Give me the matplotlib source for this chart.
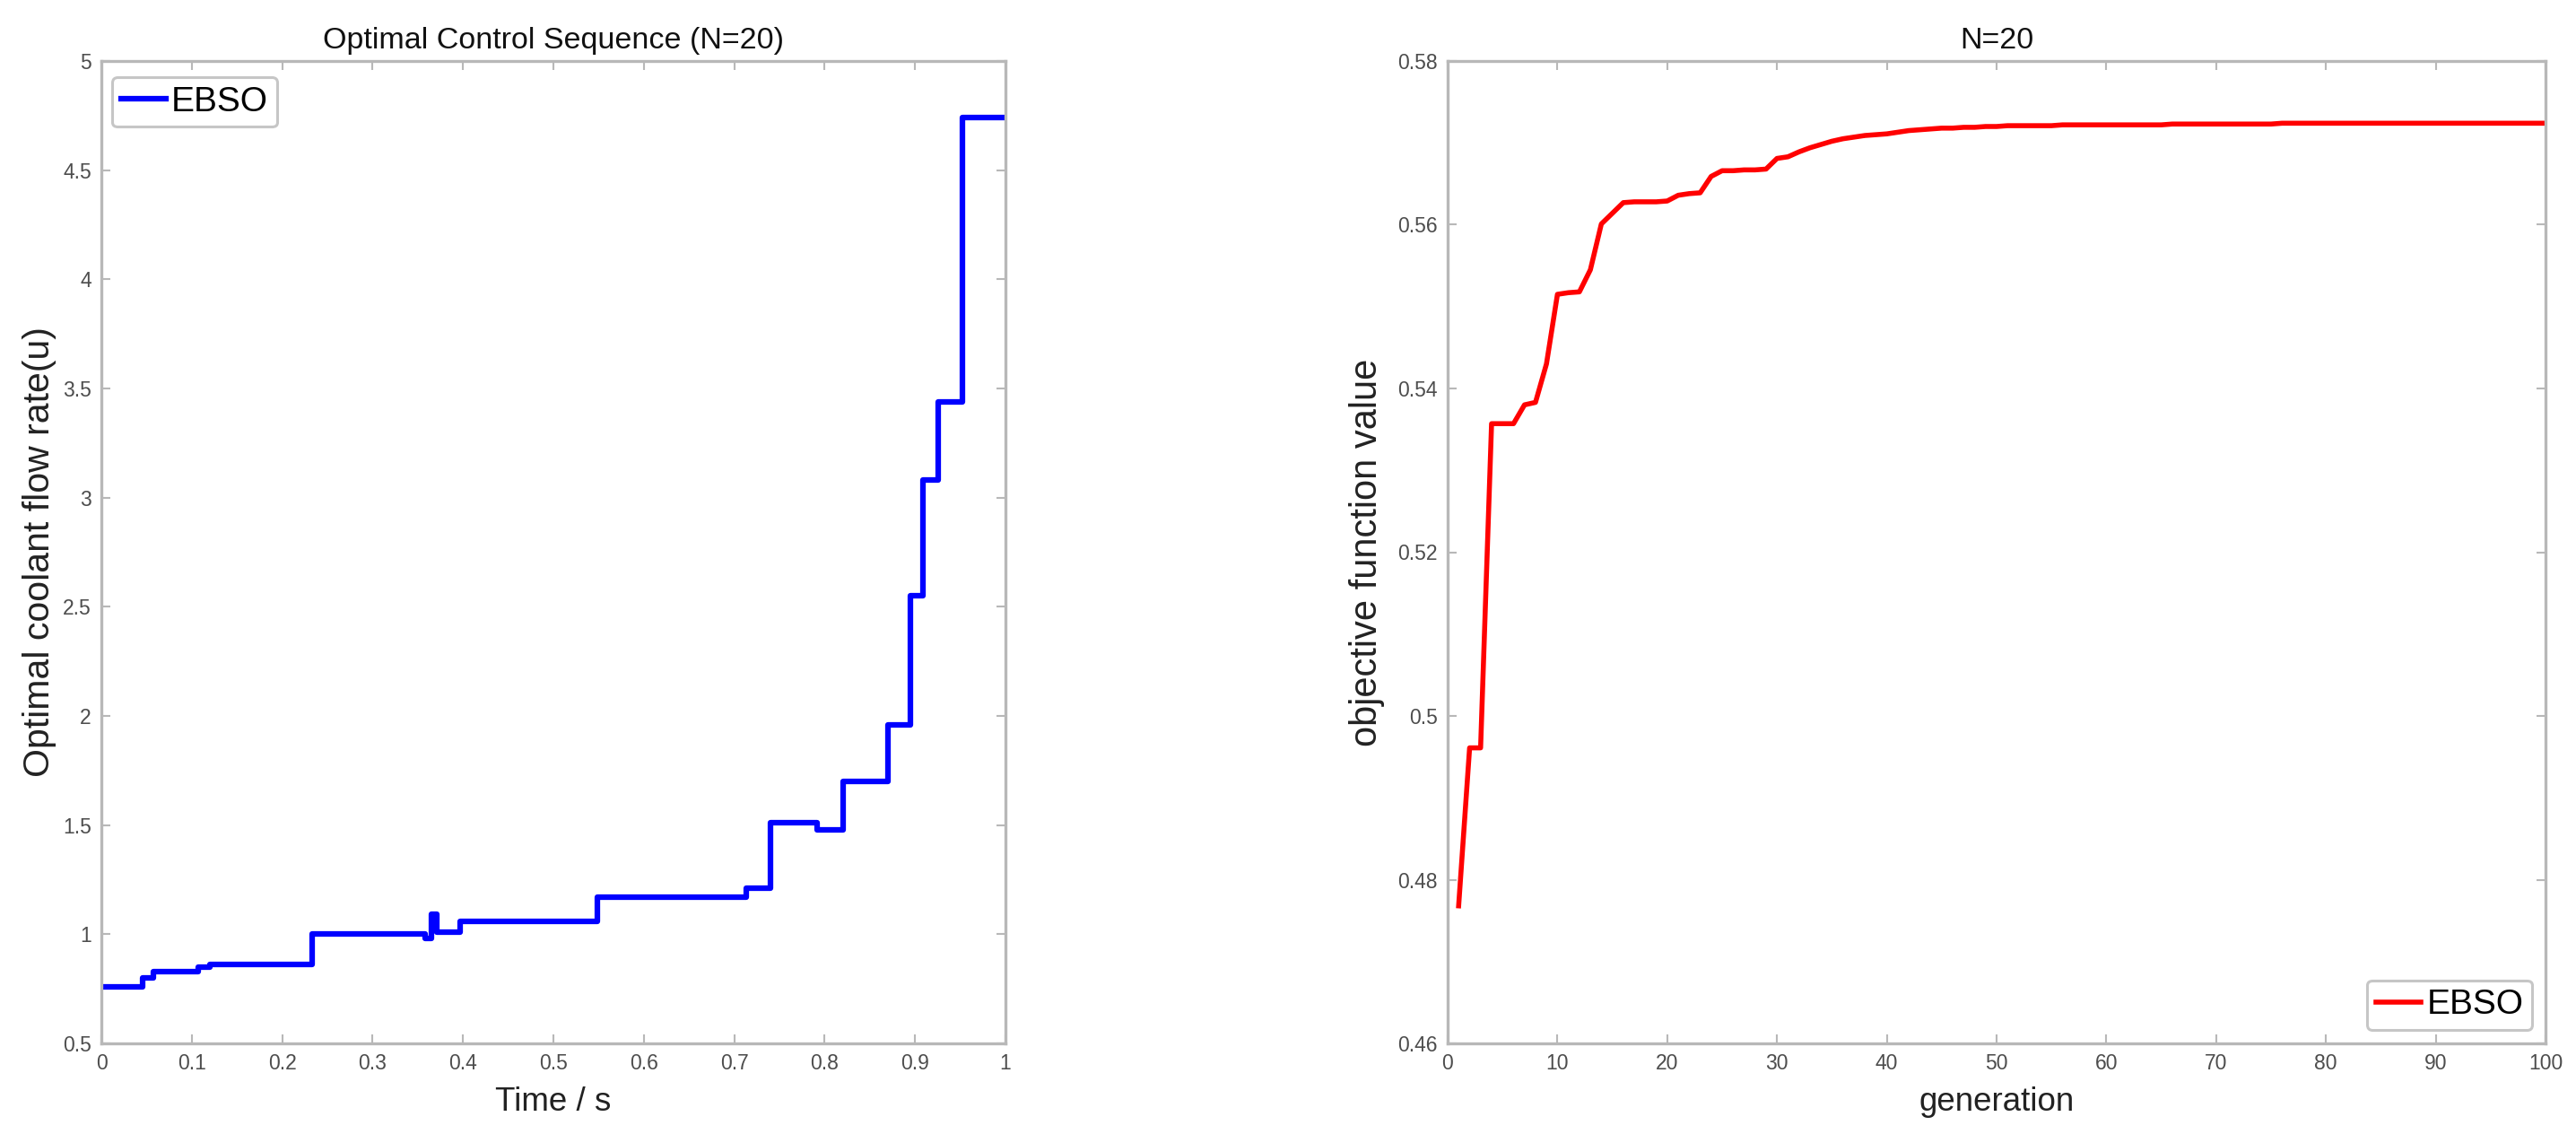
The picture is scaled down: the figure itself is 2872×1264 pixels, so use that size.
import matplotlib
matplotlib.use("Agg")
import matplotlib.pyplot as plt
import numpy as np

# ---------------- data ----------------
t_start = [0.0, 0.046, 0.058, 0.107, 0.120, 0.233, 0.358, 0.365, 0.371, 0.397,
           0.549, 0.713, 0.740, 0.792, 0.820, 0.870, 0.895, 0.909, 0.926, 0.952]
u_values = [0.76, 0.80, 0.83, 0.85, 0.86, 1.00, 0.98, 1.09, 1.01, 1.06,
            1.17, 1.21, 1.51, 1.48, 1.70, 1.96, 2.55, 3.08, 3.44, 4.74]
t_end = 1.0

generations = list(range(1, 101))
objective = [
    0.4768, 0.4961, 0.4961, 0.5357, 0.5357, 0.5357, 0.5380, 0.5383, 0.5430, 0.5515,
    0.5517, 0.5518, 0.5545, 0.5601, 0.5614, 0.5627, 0.5628, 0.5628, 0.5628, 0.5629,
    0.5636, 0.5638, 0.5639, 0.5659, 0.5666, 0.5666, 0.5667, 0.5667, 0.5668, 0.5681,
    0.5683, 0.5689, 0.5694, 0.5698, 0.5702, 0.5705, 0.5707, 0.5709, 0.5710, 0.5711,
    0.5713, 0.5715, 0.5716, 0.5717, 0.5718, 0.5718, 0.5719, 0.5719, 0.5720, 0.5720,
    0.5721, 0.5721, 0.5721, 0.5721, 0.5721, 0.5722, 0.5722, 0.5722, 0.5722, 0.5722,
    0.5722, 0.5722, 0.5722, 0.5722, 0.5722, 0.5723, 0.5723, 0.5723, 0.5723, 0.5723,
    0.5723, 0.5723, 0.5723, 0.5723, 0.5723, 0.5724, 0.5724, 0.5724, 0.5724, 0.5724,
    0.5724, 0.5724, 0.5724, 0.5724, 0.5724, 0.5724, 0.5724, 0.5724, 0.5724, 0.5724,
    0.5724, 0.5724, 0.5724, 0.5724, 0.5724, 0.5724, 0.5724, 0.5724, 0.5724, 0.5724,
]

left_xticks = [0, 0.1, 0.2, 0.3, 0.4, 0.5, 0.6, 0.7, 0.8, 0.9, 1.0]
left_xticklabels = ["0", "0.1", "0.2", "0.3", "0.4", "0.5", "0.6", "0.7", "0.8", "0.9", "1"]
left_yticks = [0.5, 1, 1.5, 2, 2.5, 3, 3.5, 4, 4.5, 5]
left_yticklabels = ["0.5", "1", "1.5", "2", "2.5", "3", "3.5", "4", "4.5", "5"]
right_xticks = [0, 10, 20, 30, 40, 50, 60, 70, 80, 90, 100]
right_xticklabels = [str(v) for v in right_xticks]
right_yticks = [0.46, 0.48, 0.50, 0.52, 0.54, 0.56, 0.58]
right_yticklabels = ["0.46", "0.48", "0.5", "0.52", "0.54", "0.56", "0.58"]

# ---------------- style ----------------
FONT = ["Liberation Sans", "DejaVu Sans"]
plt.rcParams["font.family"] = FONT
SPINE = "#b8b8b8"
TICKC = "#4d4d4d"

W, H = 2872, 1264
fig = plt.figure(figsize=(W / 100, H / 100), dpi=100)
fig.patch.set_facecolor("white")

top_px, bot_px = 68, 1163
ax1 = fig.add_axes([113 / W, (H - bot_px) / H, (1121 - 113) / W, (bot_px - top_px) / H])
ax2 = fig.add_axes([1614 / W, (H - bot_px) / H, (2838 - 1614) / W, (bot_px - top_px) / H])


def style(ax):
    for s in ax.spines.values():
        s.set_color(SPINE)
        s.set_linewidth(2.4)
    ax.tick_params(direction="in", length=7, width=1.5, color=SPINE,
                   top=True, right=True, labelcolor=TICKC, labelsize=16.5, pad=8)


def legend_frame(leg):
    fr = leg.get_frame()
    fr.set_linewidth(2.2)
    fr.set_edgecolor("#b8b8b8")
    fr.set_boxstyle("round,pad=0,rounding_size=0.15")


# left plot
xs = list(t_start) + [t_end]
ys = list(u_values) + [u_values[-1]]
ax1.step(xs, ys, where="post", color="#0000ff", linewidth=4.5, label="EBSO")
ax1.set_xlim(0, 1)
ax1.set_ylim(0.5, 5)
ax1.set_xticks(left_xticks)
ax1.set_xticklabels(left_xticklabels)
ax1.set_yticks(left_yticks)
ax1.set_yticklabels(left_yticklabels)
style(ax1)
ax1.set_title("Optimal Control Sequence (N=20)", fontsize=24.5, pad=10, color="#111111")
ax1.set_xlabel("Time / s", fontsize=26.5, labelpad=10, color="#222222")
ax1.set_ylabel("Optimal coolant flow rate(u)", fontsize=29.5, labelpad=5, color="#222222")
ax1w, ax1h = 1121 - 113, bot_px - top_px
leg1 = ax1.legend(loc="upper left", bbox_to_anchor=(12 / ax1w, 1 - 18 / ax1h),
                  borderaxespad=0, prop={"size": 28},
                  handlelength=1.3, handletextpad=0.15, borderpad=0.25,
                  fancybox=True)
legend_frame(leg1)

# right plot
ax2.plot(generations, objective, color="#ff0000", linewidth=4.0, label="EBSO")
ax2.set_xlim(0, 100)
ax2.set_ylim(0.46, 0.58)
ax2.set_xticks(right_xticks)
ax2.set_xticklabels(right_xticklabels)
ax2.set_yticks(right_yticks)
ax2.set_yticklabels(right_yticklabels)
style(ax2)
ax2.set_title("N=20", fontsize=24.5, pad=10, color="#111111")
ax2.set_xlabel("generation", fontsize=26.5, labelpad=10, color="#222222")
ax2.set_ylabel("objective function value", fontsize=30, labelpad=10, color="#222222")
ax2w, ax2h = 2838 - 1614, bot_px - top_px
leg2 = ax2.legend(loc="lower right", bbox_to_anchor=(1 - 15 / ax2w, 15 / ax2h),
                  borderaxespad=0, prop={"size": 28},
                  handlelength=1.3, handletextpad=0.15, borderpad=0.25,
                  fancybox=True)
legend_frame(leg2)

fig.savefig("out.png", dpi=100, facecolor="white")
